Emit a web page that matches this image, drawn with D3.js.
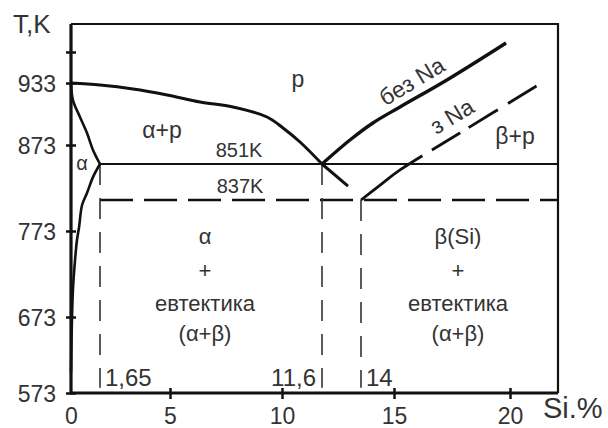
<!DOCTYPE html>
<html>
<head>
<meta charset="utf-8">
<script src="https://cdn.jsdelivr.net/npm/d3@7"></script>
<style>
  html, body { margin: 0; padding: 0; background: #fff; }
  svg { display: block; }
  text { font-family: "Liberation Sans", Arial, sans-serif; fill: #333; }
</style>
</head>
<body>
<svg id="chart" width="608" height="428"></svg>
<script>
// Al–Si phase diagram: composition (Si, wt.%) vs temperature (K)
const xTicks = [0, 5, 10, 15, 20];
const xTickLabels = ["0", "5", "10", "15", "20"];
const yTicks = [573, 673, 773, 873, 933, 973];
const yTickLabels = ["573", "673", "773", "873", "933", ""];

const eutecticT = 851;      // normal eutectic
const modifiedT = 837;      // eutectic with Na
const siAlphaMax = 1.65;    // max solubility of Si in α
const siEutectic = 11.6;
const siModified = 14;
const tBottom = 573;
const tDashEnd = 580;

// liquidus on the Al side
const liquidusAl = [[0, 933], [1.65, 931], [3.23, 927.2], [4.86, 921.4], [6.34, 914.6],
  [7.81, 909.8], [9.33, 900.1], [10.04, 889.5], [10.72, 875.9], [11.6, 851]];
// solidus of α
const solidus = [[0, 933], [0.11, 916.5], [0.51, 900.1], [0.91, 884.6], [1.25, 867.2], [1.65, 851]];
// solvus of α
const solvus = [[1.65, 851], [1.25, 845.9], [0.91, 839.7], [0.63, 826.7], [0.46, 781.2],
  [0.34, 762.5], [0.23, 739.3], [0.11, 704.4], [0.04, 655], [0, 600]];
// liquidus on the Si side, without Na
const liquidusSi = [[11.6, 851], [13.32, 877.8], [14.36, 894.3], [15.26, 909.8], [17.28, 936.9], [19.83, 985.9]];
// liquidus on the Si side, with Na
const liquidusSiNa = [[14, 837], [14.58, 842.8], [15.26, 848.7], [17.84, 884.6], [21.16, 930.1]];
// supercooled continuation of the Al liquidus
const liquidusExt = [[11.6, 851], [13.2, 842.4]];

const svg = d3.select("#chart");

// the diagram's axes are drawn non-uniformly, so both scales are piecewise linear
const x = d3.scaleLinear()
  .domain([0, 1.65, 5, 10, 11.6, 14, 15, 20, 22.1])
  .range([71, 100, 170, 282, 322, 361, 394, 510, 558]);
const y = d3.scaleLinear()
  .domain([573, 673, 773, 837, 851, 873, 933, 973, 1013])
  .range([393, 317, 231, 200, 164, 145, 83, 52, 24]);

const [x0, x1] = [x.range()[0], x.range()[x.range().length - 1]];
const [yB, yT] = [y.range()[0], y.range()[y.range().length - 1]];

const line = d3.line().x(d => x(d[0])).y(d => y(d[1]));
const smooth = d3.line().x(d => x(d[0])).y(d => y(d[1])).curve(d3.curveCatmullRom.alpha(0.5));

// frame: top and right thinner
svg.append("path")
  .attr("d", `M${x0},${yT}H${x1}V${yB}`)
  .attr("fill", "none").attr("stroke", "#111").attr("stroke-width", 2.2);

// axes
const xAxis = svg.append("g").attr("transform", `translate(0,${yB})`)
  .call(d3.axisBottom(x).tickValues(xTicks).tickFormat((d, i) => xTickLabels[i]).tickSize(0));
xAxis.select(".domain").remove();
xAxis.selectAll(".tick").filter(d => d > 0).append("line")
  .attr("y1", -5).attr("y2", 6).attr("stroke", "#111").attr("stroke-width", 2.5);
xAxis.selectAll(".tick text")
  .attr("y", 31).attr("dy", 0).attr("font-size", 23).attr("fill", "#333")
  .attr("font-family", "Liberation Sans, Arial, sans-serif");

const yAxis = svg.append("g").attr("transform", `translate(${x0},0)`)
  .call(d3.axisLeft(y).tickValues(yTicks).tickFormat((d, i) => yTickLabels[i]).tickSize(0));
yAxis.select(".domain").remove();
yAxis.selectAll(".tick").append("line")
  .attr("x1", -5).attr("x2", 5).attr("stroke", "#111").attr("stroke-width", 2.5);
yAxis.selectAll(".tick text")
  .attr("x", -15).attr("dy", "0.36em").attr("font-size", 23).attr("fill", "#333")
  .attr("font-family", "Liberation Sans, Arial, sans-serif");

// left and bottom axis lines, heavier
svg.append("path")
  .attr("d", `M${x0},${yT}V${yB}H${x1}`)
  .attr("fill", "none").attr("stroke", "#111").attr("stroke-width", 3.2);

// eutectic horizontal (solid) and modified eutectic (dashed)
svg.append("path").attr("d", line([[siAlphaMax, eutecticT], [22.1, eutecticT]]))
  .attr("stroke", "#111").attr("stroke-width", 2.2).attr("fill", "none");
svg.append("path").attr("d", line([[siAlphaMax, modifiedT], [22.1, modifiedT]]))
  .attr("stroke", "#111").attr("stroke-width", 2.4).attr("fill", "none")
  .attr("stroke-dasharray", "33,11");

// vertical composition guides
[[siAlphaMax, eutecticT], [siEutectic, eutecticT], [siModified, modifiedT]].forEach(([si, t]) => {
  svg.append("path").attr("d", line([[si, t], [si, tDashEnd]]))
    .attr("stroke", "#333").attr("stroke-width", 1.6).attr("fill", "none")
    .attr("stroke-dasharray", "21,13");
});

// phase boundaries
svg.append("path").attr("d", smooth(liquidusAl))
  .attr("stroke", "#111").attr("stroke-width", 3).attr("fill", "none");
svg.append("path").attr("d", smooth(solidus))
  .attr("stroke", "#111").attr("stroke-width", 2.6).attr("fill", "none");
svg.append("path").attr("d", smooth(solvus))
  .attr("stroke", "#111").attr("stroke-width", 2.6).attr("fill", "none");
svg.append("path").attr("d", smooth(liquidusSi))
  .attr("stroke", "#111").attr("stroke-width", 3.4).attr("fill", "none");
svg.append("path").attr("d", smooth(liquidusSiNa))
  .attr("stroke", "#111").attr("stroke-width", 2.8).attr("fill", "none")
  .attr("stroke-dasharray", "76,11,33,10,34,12,34,60");
svg.append("path").attr("d", line(liquidusExt))
  .attr("stroke", "#111").attr("stroke-width", 3).attr("fill", "none");

// text helper
function label(txt, px, py, size, opts = {}) {
  const t = svg.append("text")
    .attr("x", px).attr("y", py)
    .attr("font-size", size)
    .attr("text-anchor", opts.anchor || "middle")
    .text(txt);
  if (opts.rotate) t.attr("transform", `rotate(${opts.rotate},${px},${py})`);
  return t;
}

// axis titles
label("T,K", 13, 33, 26, { anchor: "start" });
label("Si.%", 543, 418, 29, { anchor: "start" });

// phase fields
label("p", 298, 87, 23);
label("α+p", 162, 138, 23);
label("α", 82, 170, 20);
label("β+p", 515, 144, 23);
label(eutecticT + "K", 239, 157, 20);
label(modifiedT + "K", 240, 193, 20);
label("без Na", 416, 88, 23, { rotate: -31 });
label("з Na", 456, 123, 23, { rotate: -31 });

const leftBlock = ["α", "+", "евтектика", "(α+β)"];
const rightBlock = ["β(Si)", "+", "евтектика", "(α+β)"];
const rowY = [244, 278, 311, 341];
leftBlock.forEach((s, i) => label(s, 205, rowY[i], 22));
rightBlock.forEach((s, i) => label(s, 458, rowY[i], 22));

// composition values at the guides
label("1,65", 105, 386, 24, { anchor: "start" });
label("11,6", 316, 386, 24, { anchor: "end" });
label("14", 366, 386, 24, { anchor: "start" });
</script>
</body>
</html>
